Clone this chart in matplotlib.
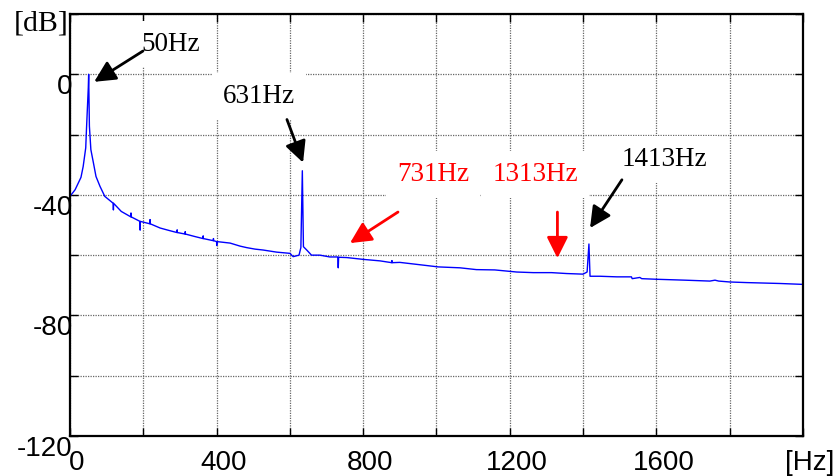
import matplotlib
matplotlib.use("Agg")
import matplotlib.pyplot as plt
import matplotlib.transforms as mtransforms

# Spectrum (frequency in Hz, level in dB)
freq_hz = [0, 14, 30, 36, 43, 45, 50, 51, 53, 57, 64, 71, 82, 95,
           118, 118.5, 119, 140, 166, 166.5, 167, 191, 191.5, 192, 218, 218.5, 219,
           246, 270, 292, 292.5, 293, 314, 314.5, 315, 340, 363, 363.5, 364,
           391, 391.5, 392, 400, 400.5, 401, 437, 464, 482, 505, 527, 564, 600,
           609, 625, 630, 634, 637, 646, 659, 682, 709, 731, 732, 733, 755, 800,
           846, 878, 878.5, 879, 900, 928, 1005, 1064, 1109, 1159, 1219, 1264,
           1314, 1355, 1400, 1411, 1416, 1419, 1446, 1492, 1532, 1534, 1555,
           1560, 1600, 1678, 1746, 1760, 1770, 1800, 1846, 1937, 2000]
level_db = [-40.5, -38.3, -34.2, -30.6, -24.4, -18.3, -4.4, 0.0, -17.2, -25.0,
            -29.4, -33.9, -37.2, -40.5,
            -42.8, -45.0, -42.8, -45.5, -47.3, -46.0, -47.3, -48.8, -51.7, -48.8,
            -49.6, -48.2, -49.6,
            -51.0, -51.8, -52.5, -51.6, -52.5, -53.0, -52.2, -53.0, -53.8, -54.5,
            -53.6, -54.5, -55.2, -54.5, -55.2, -55.5, -56.8, -55.5, -56.0, -57.0,
            -57.5, -58.0, -58.3, -59.0, -59.4, -60.5, -60.0, -57.5, -32.0, -57.2,
            -58.3, -60.0, -60.0, -60.6, -60.6, -64.2, -60.7, -60.8, -61.4, -61.9,
            -62.5, -61.8, -62.5, -62.4, -62.8, -63.9, -64.2, -64.8, -64.9, -65.6,
            -65.8, -65.8, -66.1, -66.3, -65.6, -56.3, -67.0, -67.0, -67.2, -67.2,
            -67.8, -67.4, -67.8, -68.0, -68.3, -68.6, -68.3, -68.6, -68.9, -69.1,
            -69.4, -69.7]

x_ticks = [0, 200, 400, 600, 800, 1000, 1200, 1400, 1600, 1800, 2000]
x_labels = ["0", "", "400", "", "800", "", "1200", "", "1600", "", "[Hz]"]
y_ticks = [20, 0, -20, -40, -60, -80, -100, -120]
y_labels = ["", "0", "", "-40", "", "-80", "", "-120"]

# (label, text position, arrow tail, arrow tip, colour)
notes = [
    ("50Hz", (276, 10.0), (199, 7.7), (66, -2.5), "black"),
    ("631Hz", (516, -7.3), (592, -15.0), (636, -29.3), "black"),
    ("731Hz", (991, -33.3), (895, -45.7), (764, -56.0), "red"),
    ("1313Hz", (1269, -33.3), (1330, -45.7), (1330, -61.0), "red"),
    ("1413Hz", (1623, -28.3), (1506, -35.0), (1419, -51.0), "black"),
]

fig = plt.figure(figsize=(8.38, 4.76), dpi=100)
ax = fig.add_axes([0.0835, 0.084, 0.8747, 0.8866])

ax.plot(freq_hz, level_db, color="#0000ff", lw=1.0, zorder=2)

ax.set_xlim(0, 2000)
ax.set_ylim(-120, 20)
ax.set_xticks(x_ticks)
ax.set_xticklabels(x_labels, fontfamily="Liberation Sans", fontsize=20)
ax.set_yticks(y_ticks)
ax.set_yticklabels(y_labels, fontfamily="Liberation Sans", fontsize=20)
ax.tick_params(direction="in", top=True, right=True, length=6, width=1)
ax.tick_params(axis="x", pad=10)
ax.tick_params(axis="y", pad=-2)
ax.grid(True, color="#666666", linestyle=(0, (1, 1)), linewidth=0.9)
ax.set_axisbelow(True)
for sp in ax.spines.values():
    sp.set_linewidth(1.6)

# labels sit a little off their ticks in the original
dx = mtransforms.ScaledTranslation(0.07, 0, fig.dpi_scale_trans)
for lab in ax.get_xticklabels():
    lab.set_transform(lab.get_transform() + dx)
dy = mtransforms.ScaledTranslation(0, -0.10, fig.dpi_scale_trans)
for lab in ax.get_yticklabels():
    lab.set_transform(lab.get_transform() + dy)

# unit label of the y axis, next to the top tick
unit_tr = mtransforms.blended_transform_factory(ax.transAxes, ax.transData)
ax.text(-0.002, y_ticks[0], "[dB]", fontsize=21.5, fontfamily="Liberation Serif",
        ha="right", va="center", transform=unit_tr + dy, clip_on=False)

for label, pos, tail, tip, col in notes:
    ax.text(pos[0], pos[1], label, color=col, fontsize=19.5, fontfamily="Liberation Serif",
            ha="center", va="center", zorder=3,
            bbox=dict(boxstyle="square,pad=0.4", fc="white", ec="none"))
    ax.annotate("", xy=tip, xytext=tail, zorder=4,
                arrowprops=dict(arrowstyle="-|>", color=col, lw=2, mutation_scale=32,
                                shrinkA=0, shrinkB=0))

fig.savefig("out.png", dpi=100)
